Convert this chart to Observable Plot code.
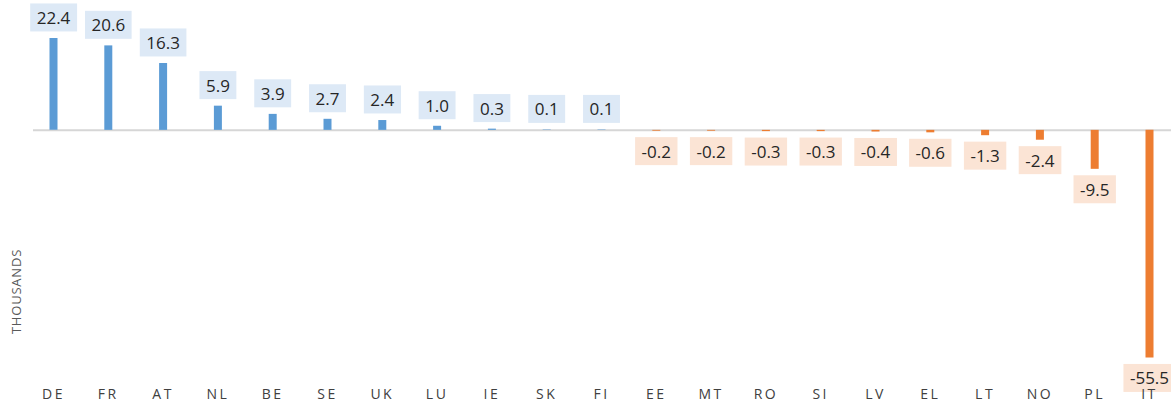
<!DOCTYPE html>
<html><head><meta charset="utf-8">
<script src="https://cdn.jsdelivr.net/npm/d3@7"></script>
<script src="https://cdn.jsdelivr.net/npm/@observablehq/plot@0.6"></script>
<style>
body{margin:0;background:#fff}
svg{font-family:"Open Sans",sans-serif}
</style>
</head><body><div id="chart"></div>
<script>
const countries = ["DE","FR","AT","NL","BE","SE","UK","LU","IE","SK","FI","EE","MT","RO","SI","LV","EL","LT","NO","PL","IT"];
const values = [22.4,20.6,16.3,5.9,3.9,2.7,2.4,1.0,0.3,0.1,0.1,-0.2,-0.2,-0.3,-0.3,-0.4,-0.6,-1.3,-2.4,-9.5,-55.5];
const yTitle = "THOUSANDS";
const posColor = "#5b9bd5", negColor = "#ed7d31";
const posBox = "#dde9f6", negBox = "#fbe4d5";

const data = countries.map((c, i) => ({country: c, value: values[i]}));
const pos = data.filter(d => d.value > 0);
const neg = data.filter(d => d.value < 0);

const plot = Plot.plot({
  width: 1171, height: 405,
  marginTop: 0, marginBottom: 0, marginLeft: 33, marginRight: 0,
  x: {type: "point", domain: countries, range: [53, 1149], padding: 0, round: false, axis: null},
  y: {domain: [-55.5, 22.4], range: [357.5, 38], axis: null},
  marks: [
    Plot.ruleY([0], {stroke: "#d6d6d6", strokeWidth: 2}),
    Plot.ruleX(pos, {x: "country", y1: 0, y2: "value", stroke: posColor, strokeWidth: 8}),
    Plot.ruleX(neg, {x: "country", y1: 0, y2: "value", stroke: negColor, strokeWidth: 8}),
    Plot.text(pos, {x: "country", y: "value", text: d => d.value.toFixed(1), dy: -20, fontSize: 17, fill: "#262626"}),
    Plot.text(neg, {x: "country", y: "value", text: d => d.value.toFixed(1), dy: 21, fontSize: 17, fill: "#262626"}),
    Plot.text(countries, {x: d => d, text: d => d, frameAnchor: "bottom", lineAnchor: "middle", dy: -11, fontSize: 14, fill: "#404040"}),
    Plot.text([yTitle], {text: d => d, frameAnchor: "bottom-left", textAnchor: "middle", lineAnchor: "middle", rotate: -90, dx: -17, dy: -114, fontSize: 13, fill: "#595959"})
  ]
});
document.getElementById("chart").appendChild(plot);

const textGroups = plot.querySelectorAll('g[aria-label="text"]');
// order: positive labels, negative labels, country labels, y title
textGroups[2].querySelectorAll("text").forEach(t => t.style.letterSpacing = "2.5px");
textGroups[3].querySelectorAll("text").forEach(t => t.style.letterSpacing = "0.8px");

function addBoxes(g, color) {
  if (!g) return;
  g.querySelectorAll("text").forEach(t => {
    const b = t.getBBox();
    const h = 28, padX = 6.5;
    const rect = document.createElementNS("http://www.w3.org/2000/svg", "rect");
    rect.setAttribute("x", b.x - padX);
    rect.setAttribute("y", b.y + b.height / 2 - h / 2);
    rect.setAttribute("width", b.width + 2 * padX);
    rect.setAttribute("height", h);
    rect.setAttribute("fill", color);
    const tr = t.getAttribute("transform");
    if (tr) rect.setAttribute("transform", tr);
    g.insertBefore(rect, t);
  });
}
addBoxes(textGroups[0], posBox);
addBoxes(textGroups[1], negBox);
</script>
</body></html>
